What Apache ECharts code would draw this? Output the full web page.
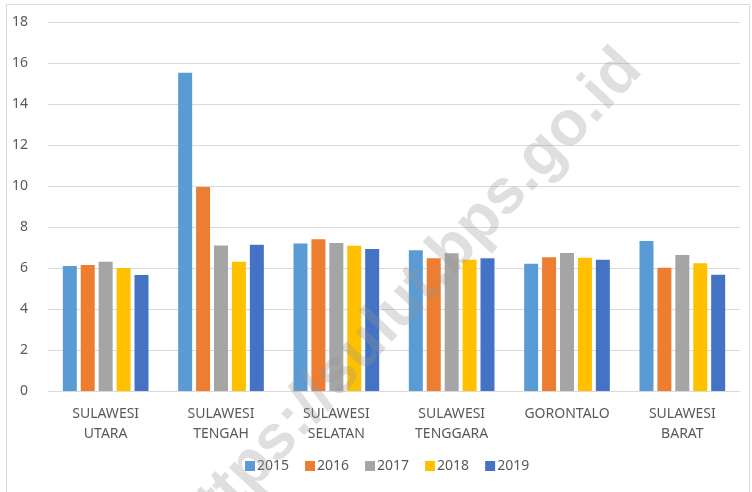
<!DOCTYPE html>
<html>
<head>
<meta charset="utf-8">
<script src="https://cdn.jsdelivr.net/npm/echarts@6/dist/echarts.min.js"></script>
<style>
  html, body { margin: 0; padding: 0; background: #fff; }
  #chart { width: 752px; height: 492px; }
</style>
</head>
<body>
<div id="chart"></div>
<script>
// Provinces of Sulawesi (x axis)
const categories = ['SULAWESI\nUTARA', 'SULAWESI\nTENGAH', 'SULAWESI\nSELATAN', 'SULAWESI\nTENGGARA', 'GORONTALO', 'SULAWESI\nBARAT'];
const years = ['2015', '2016', '2017', '2018', '2019'];

// Values per year, one entry per province
const v2015 = [6.10, 15.52, 7.20, 6.86, 6.21, 7.32];
const v2016 = [6.15, 9.95, 7.40, 6.47, 6.52, 6.01];
const v2017 = [6.30, 7.10, 7.22, 6.72, 6.73, 6.64];
const v2018 = [6.00, 6.30, 7.08, 6.40, 6.50, 6.23];
const v2019 = [5.66, 7.14, 6.93, 6.47, 6.40, 5.67];

const yTicks = { min: 0, max: 18, interval: 2 };

const colors = ['#5B9BD5', '#ED7D31', '#A5A5A5', '#FFC000', '#4472C4'];
const values = [v2015, v2016, v2017, v2018, v2019];

const chart = echarts.init(document.getElementById('chart'), null, { renderer: 'canvas' });

const textStyle = { color: '#595959', fontFamily: '"Noto Sans", "Open Sans", "DejaVu Sans", sans-serif', fontSize: 14 };

chart.setOption({
  animation: false,
  backgroundColor: '#ffffff',
  color: colors,
  grid: { left: 48, right: 12, top: 22, bottom: 101, containLabel: false },
  legend: {
    data: years,
    bottom: 14,
    left: 240,
    itemWidth: 10,
    itemHeight: 10,
    itemGap: 16,
    icon: 'rect',
    textStyle: Object.assign({}, textStyle, { fontSize: 14, padding: [0, 0, 0, -3] })
  },
  xAxis: {
    type: 'category',
    data: categories,
    axisLine: { lineStyle: { color: '#d9d9d9', width: 1 } },
    axisTick: { show: false },
    axisLabel: Object.assign({}, textStyle, { margin: 13, lineHeight: 20, interval: 0 })
  },
  yAxis: {
    type: 'value',
    min: yTicks.min,
    max: yTicks.max,
    interval: yTicks.interval,
    axisLine: { show: false },
    axisTick: { show: false },
    splitLine: { lineStyle: { color: '#d9d9d9', width: 1 } },
    axisLabel: Object.assign({}, textStyle, { margin: 20 })
  },
  series: years.map((y, i) => ({
    name: y,
    type: 'bar',
    data: values[i],
    barWidth: 14,
    barGap: '28%',
    itemStyle: { color: colors[i] }
  })),
  graphic: [
    {
      type: 'rect',
      left: 4, top: 2,
      shape: { width: 743, height: 500 },
      style: { fill: 'none', stroke: '#d9d9d9', lineWidth: 1 },
      silent: true, z: 0
    },
    {
      type: 'text',
      x: 407, y: 300,
      rotation: 47 * Math.PI / 180,
      style: {
        text: 'https://sulut.bps.go.id',
        fill: 'rgba(150,150,150,0.30)',
        font: 'bold 63px "Liberation Sans", Arial, sans-serif',
        align: 'center',
        verticalAlign: 'middle'
      },
      silent: true, z: 100
    }
  ]
});
</script>
</body>
</html>
